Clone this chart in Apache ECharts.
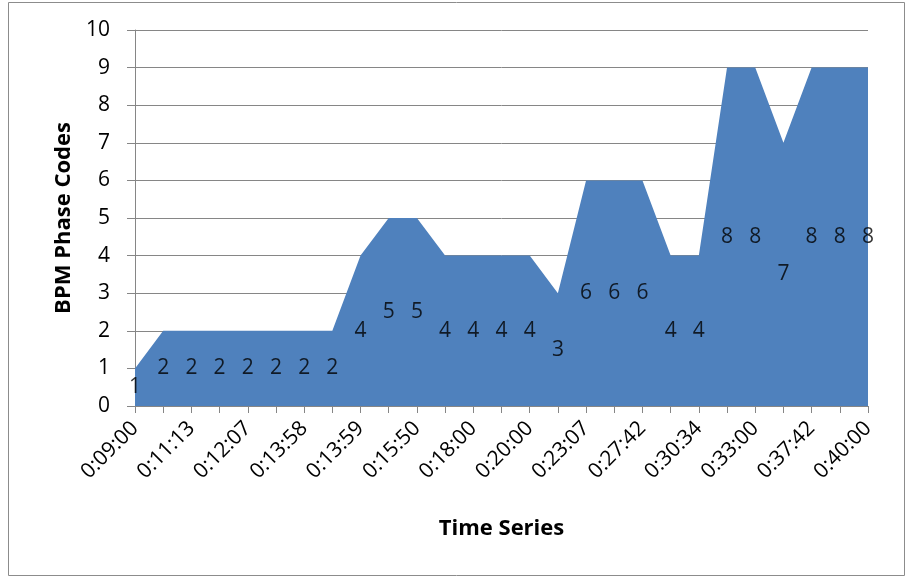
<!DOCTYPE html>
<html>
<head>
<meta charset="utf-8">
<script src="https://cdn.jsdelivr.net/npm/echarts@6/dist/echarts.min.js"></script>
<style>
html,body{margin:0;padding:0;background:#fff;}
#chart{width:909px;height:578px;}
</style>
</head>
<body>
<div id="chart"></div>
<script>
// Time categories (every other one is shown as a tick label; hidden ones estimated)
const categories = [
  "0:09:00","0:10:07","0:11:13","0:11:40","0:12:07","0:13:02","0:13:58","0:13:58",
  "0:13:59","0:14:55","0:15:50","0:16:55","0:18:00","0:19:00","0:20:00","0:21:33",
  "0:23:07","0:25:24","0:27:42","0:29:08","0:30:34","0:31:47","0:33:00","0:35:21",
  "0:37:42","0:38:51","0:40:00"
];
// Area heights
const areaValues = [1,2,2,2,2,2,2,2,4,5,5,4,4,4,4,3,6,6,6,4,4,9,9,7,9,9,9];
// Data label texts
const labelCodes = [1,2,2,2,2,2,2,2,4,5,5,4,4,4,4,3,6,6,6,4,4,8,8,7,8,8,8];
const yTicks = [0,1,2,3,4,5,6,7,8,9,10];

const FONT = "'Open Sans', Lato, sans-serif";
const chart = echarts.init(document.getElementById('chart'));
chart.setOption({
  animation: false,
  backgroundColor: '#fff',
  graphic: [{
    type: 'rect', shape: {x: 8.5, y: 2.5, width: 896, height: 573},
    style: {fill: 'none', stroke: '#8c8c8c', lineWidth: 1}, silent: true
  }],
  grid: {left: 135, right: 41, top: 30, bottom: 172, containLabel: false},
  xAxis: {
    type: 'category',
    data: categories,
    boundaryGap: false,
    name: 'Time Series',
    nameLocation: 'middle',
    nameGap: 112,
    nameTextStyle: {fontFamily: FONT, fontWeight: 'bold', fontSize: 22, color: '#000'},
    axisLine: {lineStyle: {color: '#868686', width: 1}},
    axisTick: {show: true, interval: 0, length: 7, lineStyle: {color: '#868686'}},
    axisLabel: {interval: 1, rotate: 45, margin: 19, fontFamily: FONT, fontSize: 21, color: '#000'},
    splitLine: {show: false}
  },
  yAxis: {
    type: 'value',
    min: 0, max: 10, interval: 1,
    name: 'BPM Phase Codes',
    nameLocation: 'middle',
    nameGap: 60,
    nameRotate: 90,
    nameTextStyle: {fontFamily: FONT, fontWeight: 'bold', fontSize: 22, color: '#000'},
    axisLine: {show: true, lineStyle: {color: '#868686', width: 1}},
    axisTick: {show: true, length: 8, lineStyle: {color: '#868686'}},
    axisLabel: {margin: 25, fontFamily: FONT, fontSize: 21, color: '#000',
      formatter: v => yTicks.includes(v) ? String(v) : ''},
    splitLine: {show: true, lineStyle: {color: '#868686', width: 1}}
  },
  series: [
    {
      type: 'line',
      data: areaValues,
      symbol: 'none',
      lineStyle: {width: 0},
      areaStyle: {color: '#4F81BD', opacity: 1},
      z: 2
    },
    {
      type: 'scatter',
      data: areaValues.map(v => v / 2),
      symbolSize: 0,
      silent: true,
      z: 5,
      label: {
        show: true, position: 'inside',
        fontFamily: FONT, fontSize: 21, color: '#000',
        formatter: p => String(labelCodes[p.dataIndex])
      }
    }
  ]
});
</script>
</body>
</html>
